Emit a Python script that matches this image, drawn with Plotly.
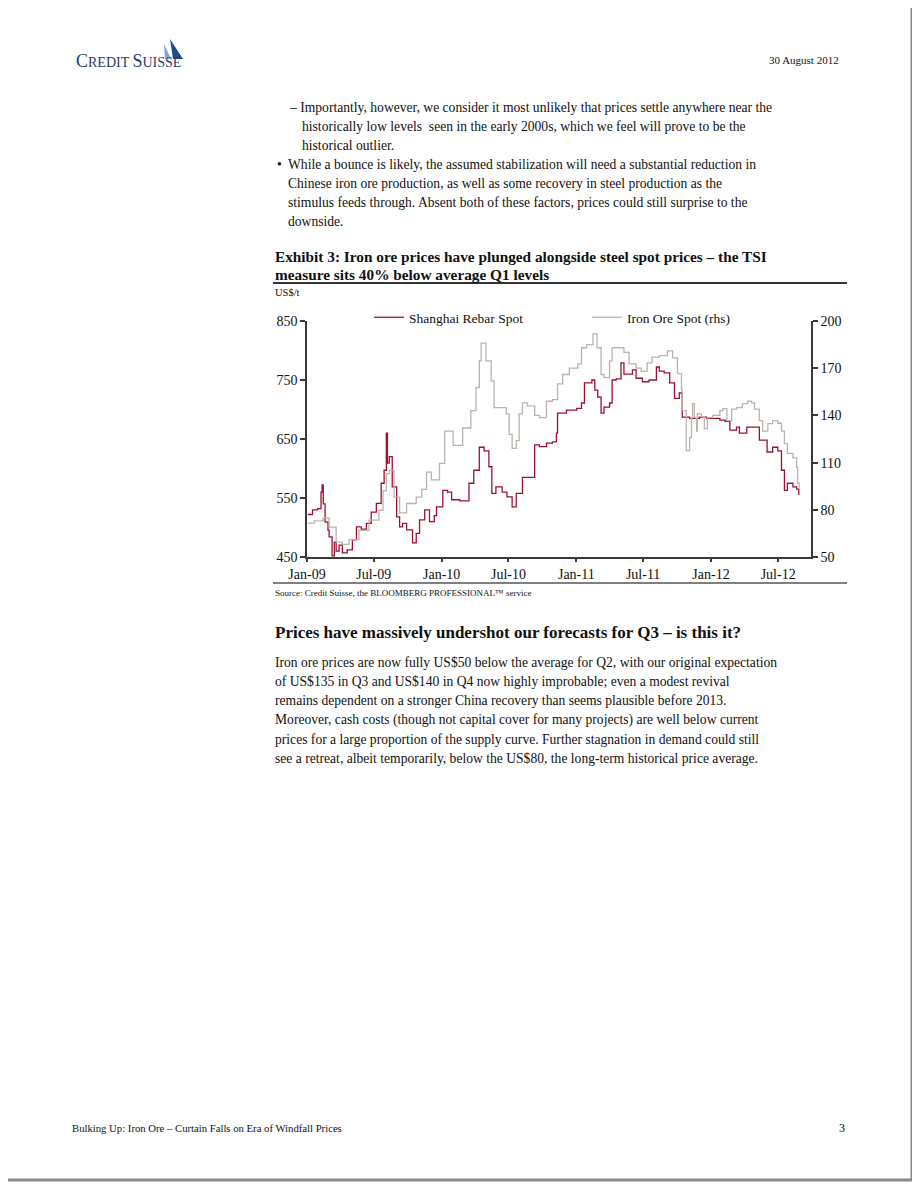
import plotly.graph_objects as go

# ---------------- data ----------------
rebar_dates = [
    "2009-01-03", "2009-01-16", "2009-01-30", "2009-02-08", "2009-02-11", "2009-02-14",
    "2009-02-19", "2009-02-27", "2009-03-02", "2009-03-10", "2009-03-16", "2009-03-21",
    "2009-03-29", "2009-04-07", "2009-04-20", "2009-05-04", "2009-05-15", "2009-05-28",
    "2009-06-11", "2009-06-24", "2009-07-08", "2009-07-21", "2009-07-29", "2009-08-04",
    "2009-08-07", "2009-08-12", "2009-08-20", "2009-09-01", "2009-09-09", "2009-09-17",
    "2009-09-28", "2009-10-14", "2009-10-24", "2009-11-02", "2009-11-16", "2009-11-29",
    "2009-12-12", "2009-12-18", "2010-01-04", "2010-01-17", "2010-01-28", "2010-02-19",
    "2010-03-08", "2010-03-16", "2010-03-29", "2010-04-13", "2010-04-26", "2010-05-09",
    "2010-05-17", "2010-05-28", "2010-06-14", "2010-06-27", "2010-07-11", "2010-07-22",
    "2010-08-08", "2010-08-26", "2010-09-10", "2010-09-23", "2010-10-12", "2010-10-28",
    "2010-11-08", "2010-11-11", "2010-12-05", "2011-01-02", "2011-01-15", "2011-01-23",
    "2011-02-12", "2011-02-20", "2011-02-28", "2011-03-09", "2011-03-17", "2011-04-01",
    "2011-04-08", "2011-04-19", "2011-05-02", "2011-05-10", "2011-06-02", "2011-06-12",
    "2011-06-29", "2011-07-17", "2011-08-06", "2011-08-14", "2011-08-27", "2011-09-11",
    "2011-09-24", "2011-10-07", "2011-10-15", "2011-11-04", "2011-12-01", "2011-12-20",
    "2012-01-25", "2012-02-08", "2012-02-21", "2012-03-10", "2012-03-18", "2012-04-07",
    "2012-04-23", "2012-05-11", "2012-06-01", "2012-06-16", "2012-06-30", "2012-07-10",
    "2012-07-18", "2012-07-26", "2012-08-10", "2012-08-20", "2012-08-26",
]
rebar_values = [
    522, 530, 532, 560, 572, 540,
    509, 495, 484, 452, 475, 460,
    470, 457, 462, 479, 501, 497,
    507, 526, 541, 575, 597, 660,
    609, 620, 569, 518, 501, 507,
    496, 474, 490, 513, 530, 510,
    520, 535, 563, 560, 547, 545,
    545, 575, 597, 636, 630, 603,
    558, 569, 560, 552, 535, 558,
    585, 585, 640, 637, 643, 645,
    660, 694, 699, 702, 711, 745,
    750, 733, 721, 694, 704, 711,
    750, 752, 779, 760, 767, 753,
    747, 750, 772, 765, 762, 745,
    719, 728, 687, 685, 687, 685,
    682, 680, 665, 670, 660, 670,
    670, 648, 628, 636, 630, 597,
    563, 575, 569, 565, 555,
]

ore_dates = [
    "2009-01-03", "2009-01-21", "2009-02-14", "2009-03-02", "2009-03-21", "2009-04-07",
    "2009-04-25", "2009-05-22", "2009-06-18", "2009-07-15", "2009-07-26", "2009-08-04",
    "2009-08-12", "2009-08-25", "2009-09-09", "2009-09-28", "2009-10-24", "2009-11-08",
    "2009-11-21", "2009-12-04", "2009-12-26", "2010-01-09", "2010-02-01", "2010-02-27",
    "2010-03-21", "2010-04-04", "2010-04-13", "2010-04-18", "2010-05-01", "2010-05-15",
    "2010-05-23", "2010-06-11", "2010-06-25", "2010-07-03", "2010-07-11", "2010-07-22",
    "2010-07-30", "2010-08-08", "2010-08-21", "2010-09-10", "2010-09-23", "2010-10-12",
    "2010-10-28", "2010-11-11", "2010-11-25", "2010-12-13", "2011-01-05", "2011-01-15",
    "2011-01-29", "2011-02-15", "2011-02-26", "2011-03-09", "2011-03-17", "2011-04-01",
    "2011-04-08", "2011-04-27", "2011-05-10", "2011-05-24", "2011-06-12", "2011-06-26",
    "2011-07-12", "2011-07-25", "2011-08-14", "2011-09-05", "2011-09-19", "2011-10-02",
    "2011-10-13", "2011-10-15", "2011-10-26", "2011-11-04", "2011-11-09", "2011-11-12",
    "2011-11-17", "2011-11-23", "2011-11-25", "2011-12-06", "2011-12-14", "2011-12-22",
    "2012-01-06", "2012-01-25", "2012-02-02", "2012-02-13", "2012-02-26", "2012-03-10",
    "2012-03-26", "2012-04-09", "2012-04-20", "2012-04-28", "2012-05-11", "2012-05-20",
    "2012-06-03", "2012-06-16", "2012-06-30", "2012-07-10", "2012-07-18", "2012-07-26",
    "2012-08-10", "2012-08-20", "2012-08-23", "2012-08-27",
]
ore_values = [
    71.5, 73, 74.7, 69, 59.5, 58,
    61, 67, 73.4, 79.7, 92, 103,
    105, 88, 78, 84, 88, 93,
    104, 99, 109.5, 130, 121, 132,
    143, 157.6, 174.7, 186, 174.7, 162,
    145, 145, 141, 128, 119, 124,
    141, 148, 146, 140, 138.6, 149,
    150, 160, 166, 170, 172.8, 183,
    185, 191.8, 183, 166, 164, 174.7,
    183, 183, 180, 172.8, 170, 168,
    173.4, 177, 178, 181, 176.6, 166.5,
    155.7, 143, 117.7, 126, 138.6, 147.5,
    138.6, 130, 141, 139, 131.6, 138.6,
    140, 143, 144.3, 136.7, 144, 145,
    147.5, 149, 148, 144, 136.7, 130,
    134.8, 136.7, 135, 130, 122, 115.8,
    113, 107, 97, 94,
]

x_tick_vals = ["2009-01-01", "2009-07-01", "2010-01-01", "2010-07-01",
               "2011-01-01", "2011-07-01", "2012-01-01", "2012-07-01"]
x_tick_text = ["Jan-09", "Jul-09", "Jan-10", "Jul-10", "Jan-11", "Jul-11", "Jan-12", "Jul-12"]
left_ticks = [450, 550, 650, 750, 850]
right_ticks = [50, 80, 110, 140, 170, 200]

series_names = ["Shanghai Rebar Spot", "Iron Ore Spot (rhs)"]

# ---------------- page geometry (window pixel coordinates) ----------------
OX, OY = 8, 8                         # default page margin of the html body
W, H = 920 - OX, 1190 - 2 * OY        # figure size that does not overflow vertically
PL, PR, PT, PB = 307, 811, 321, 557   # plot area in window pixels
SERIF = "Liberation Serif, Times New Roman, serif"
AXIS_COL = "#3a3a3a"


def px(x):
    return (x - PL) / (PR - PL)


def py(y):
    return (PB - y) / (PB - PT)


fig = go.Figure()
fig.add_trace(go.Scatter(
    x=rebar_dates, y=rebar_values, name=series_names[0], mode="lines",
    line=dict(color="#9b1230", width=1.3, shape="hv"), legend="legend",
))
fig.add_trace(go.Scatter(
    x=ore_dates, y=ore_values, name=series_names[1], mode="lines", yaxis="y2",
    line=dict(color="#bcb4ac", width=1.3, shape="hv"), legend="legend2",
))

axis_common = dict(
    showgrid=False, zeroline=False, showline=True, linecolor=AXIS_COL, linewidth=1.5,
    ticks="outside", ticklen=5, tickwidth=1.5, tickcolor=AXIS_COL,
    tickfont=dict(family=SERIF, size=14, color="#111"),
)
x_axis_style = dict(axis_common)
x_axis_style["ticklen"] = 3

fig.update_layout(
    width=W, height=H, autosize=False,
    margin=dict(l=PL - OX, r=W - (PR - OX), t=PT - OY, b=H - (PB - OY), pad=0),
    paper_bgcolor="white", plot_bgcolor="white",
    xaxis=dict(type="date", range=["2009-01-01", "2012-09-28"],
               tickvals=x_tick_vals, ticktext=x_tick_text, **x_axis_style),
    yaxis=dict(range=[450, 850], tickvals=left_ticks, **axis_common),
    yaxis2=dict(range=[50, 200], tickvals=right_ticks, overlaying="y", side="right",
                **axis_common),
    legend=dict(x=px(369), y=py(302), xanchor="left", yanchor="top",
                bgcolor="rgba(0,0,0,0)", font=dict(family=SERIF, size=13.5, color="#111"),
                borderwidth=0),
    legend2=dict(x=px(587), y=py(302), xanchor="left", yanchor="top",
                 bgcolor="rgba(0,0,0,0)", font=dict(family=SERIF, size=13.5, color="#111"),
                 borderwidth=0),
    showlegend=True,
)

# ---------------- page texts ----------------
BODY = 13.6
texts = [
    # (x_px, y_px, text, size, anchor, color)
    (841, 60, "30 August 2012", 11, "right", "#111"),
    (287, 107, "– Importantly, however, we consider it most unlikely that prices settle anywhere near the", BODY, "left", "#111"),
    (300, 126, "historically low levels  seen in the early 2000s, which we feel will prove to be the", BODY, "left", "#111"),
    (300, 145, "historical outlier.", BODY, "left", "#111"),
    (275, 164, "•", BODY, "left", "#111"),
    (286, 164, "While a bounce is likely, the assumed stabilization will need a substantial reduction in", BODY, "left", "#111"),
    (286, 183, "Chinese iron ore production, as well as some recovery in steel production as the", BODY, "left", "#111"),
    (286, 202, "stimulus feeds through. Absent both of these factors, prices could still surprise to the", BODY, "left", "#111"),
    (286, 221, "downside.", BODY, "left", "#111"),
    (273, 256, "<b>Exhibit 3: Iron ore prices have plunged alongside steel spot prices – the TSI</b>", 15.3, "left", "#111"),
    (273, 274, "<b>measure sits 40% below average Q1 levels</b>", 15.3, "left", "#111"),
    (273, 292, "US$/t", 10.5, "left", "#111"),
    (273, 593, "Source: Credit Suisse, the BLOOMBERG PROFESSIONAL™ service", 9, "left", "#111"),
    (273, 632, "<b>Prices have massively undershot our forecasts for Q3 – is this it?</b>", 17, "left", "#111"),
    (273, 662, "Iron ore prices are now fully US$50 below the average for Q2, with our original expectation", BODY, "left", "#111"),
    (273, 681, "of US$135 in Q3 and US$140 in Q4 now highly improbable; even a modest revival", BODY, "left", "#111"),
    (273, 700, "remains dependent on a stronger China recovery than seems plausible before 2013.", BODY, "left", "#111"),
    (273, 720, "Moreover, cash costs (though not capital cover for many projects) are well below current", BODY, "left", "#111"),
    (273, 739, "prices for a large proportion of the supply curve. Further stagnation in demand could still", BODY, "left", "#111"),
    (273, 758, "see a retreat, albeit temporarily, below the US$80, the long-term historical price average.", BODY, "left", "#111"),
    (70, 1128, "Bulking Up: Iron Ore – Curtain Falls on Era of Windfall Prices", 10.7, "left", "#111"),
    (847, 1128, "3", 12, "right", "#111"),
    (74, 61, "<span style='font-size:18px'>C</span>REDIT <span style='font-size:18px'>S</span>UISSE",
     14, "left", "#1f3e72"),
]

annotations = []
for x, y, t, s, anc, col in texts:
    annotations.append(dict(
        x=px(x), y=py(y), xref="paper", yref="paper", text=t, showarrow=False,
        xanchor=anc, yanchor="middle", align=anc,
        font=dict(family=SERIF, size=s, color=col),
    ))
fig.update_layout(annotations=annotations)

# ---------------- page decorations ----------------
page_bottom = OY + H - 2   # last visible rows of the figure
page_right = 912           # right-most visible column of the page
shapes = [
    dict(type="line", xref="paper", yref="paper", x0=px(273), x1=px(847), y0=py(283), y1=py(283),
         line=dict(color="#333", width=2)),
    dict(type="line", xref="paper", yref="paper", x0=px(273), x1=px(847), y0=py(583), y1=py(583),
         line=dict(color="#555", width=1.5)),
    dict(type="line", xref="paper", yref="paper", x0=px(page_right), x1=px(page_right),
         y0=py(0), y1=py(page_bottom), line=dict(color="#8a8a8a", width=3)),
    dict(type="line", xref="paper", yref="paper", x0=px(0), x1=px(page_right),
         y0=py(page_bottom), y1=py(page_bottom), line=dict(color="#8a8a8a", width=3)),
]


def path(points):
    return "M " + " L ".join(f"{px(a):.5f},{py(b):.5f}" for a, b in points) + " Z"


shapes.append(dict(type="path", xref="paper", yref="paper",
                   path=path([(164, 44), (171, 59), (165, 59)]),
                   fillcolor="#7fa6cf", line=dict(width=0)))
shapes.append(dict(type="path", xref="paper", yref="paper",
                   path=path([(170, 39), (183, 59), (173, 59)]),
                   fillcolor="#1f4f8a", line=dict(width=0)))
fig.update_layout(shapes=shapes)

fig.write_html("out.html")
